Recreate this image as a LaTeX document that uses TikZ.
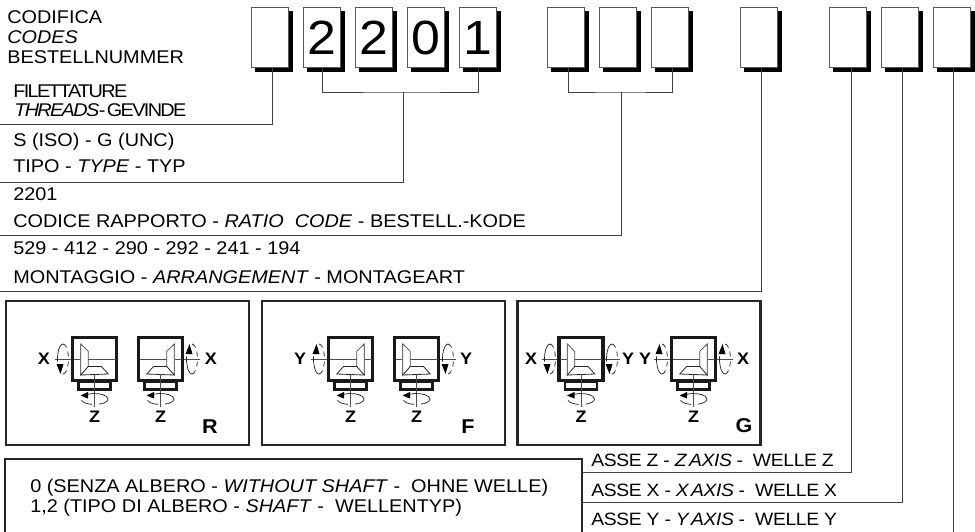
\documentclass[tikz,border=0pt]{standalone}
\usepackage{fontspec}
\setmainfont[FakeStretch=1.08]{Liberation Sans}
\usetikzlibrary{shadows,arrows.meta}
\tikzset{x=0.75pt,y=-0.75pt,
  codebox/.style={draw=black!65,line width=0.9pt,fill=white,minimum width=28pt,minimum height=45.5pt,inner sep=0pt,font=\fontsize{36}{36}\selectfont,
     drop shadow={shadow xshift=3pt,shadow yshift=-3pt,opacity=1,fill=black}},
  link/.style={draw=black!75,line width=0.75pt},
  lab/.style={anchor=base west,inner sep=0pt,font=\fontsize{13.8}{16}\selectfont},
  tight/.style={anchor=base west,inner sep=0pt,font=\fontsize{13.8}{16}\selectfont\addfontfeature{LetterSpace=-9}},
  axislab/.style={anchor=base west,inner sep=0pt,font=\fontsize{13.4}{16}\selectfont\addfontfeature{LetterSpace=-2}},
  panel/.style={draw=black!85,line width=1.9pt,inner sep=0pt},
  axl/.style={font=\bfseries\fontsize{12.5}{12.5}\selectfont,inner sep=0pt},
  tag/.style={font=\bfseries\fontsize{15}{15}\selectfont,inner sep=0pt},
  thin line/.style={draw=black!70,line width=0.5pt},
  rot line/.style={draw=black!85,line width=0.55pt}}
% arc of an ellipse: from angle #1 to #2, radii #3 #4, centre #5 #6 (angles run clockwise on the page)
\newcommand{\earc}[6]{\draw[rot line] ({#5+#3*cos(#1)},{#6+#4*sin(#1)}) arc[start angle=#1,end angle=#2,x radius=#3,y radius=#4];}
\newcommand{\gearicon}[3]{%
 \begin{scope}[shift={(#1,#2)}]
  \begin{scope}[xscale=#3]
   \draw[draw=black!90,line width=2pt,fill=white] (-16,22.5) rectangle (16,30.5);
   \draw[draw=black!90,line width=2.3pt,fill=white] (-22,-21.5) rectangle (22,21.5);
   \draw[thin line] (-21,0) -- (21,0);
   \draw[draw=black!70,line width=0.6pt,fill=white] (-13.7,-15) -- (-6.3,-7.7) -- (-6.3,9.7) -- (-13.7,16) -- cycle;
   \draw[draw=black!55,line width=1pt] (-13.7,-15) -- (-13.7,16);
   \draw[draw=black!85,line width=0.6pt,fill=white] (-13.7,16) -- (-6.3,7.5) -- (7,7.5) -- (13.7,15) -- cycle;
  \end{scope}
  \draw[thin line] (0,15) -- (0,48);
  \earc{-120}{0}{13.5}{5.5}{0}{40}
  \earc{0}{70}{13.5}{5.5}{0}{40}
  \earc{100}{165}{13.5}{5.5}{0}{40}
  \fill[black] (-14,36.5) -- (-6.5,33) -- (-6.5,39.5) -- cycle;
 \end{scope}}
% #1 centre x, #2 y, #3: 1 arrow up, 0 arrow down
\newcommand{\rotsym}[3]{%
 \begin{scope}[shift={(#1,#2)}]
  \draw[thin line] (-8,0) -- (8,0);
  \earc{-90}{-50}{5.5}{15}{0}{0}
  \earc{-30}{-10}{5.5}{15}{0}{0}
  \earc{10}{30}{5.5}{15}{0}{0}
  \earc{50}{90}{5.5}{15}{0}{0}
  \ifnum#3=1
   \fill[black] (-2.5,-15) -- (-6.5,-5) -- (0.5,-5) -- cycle;
   \earc{90}{190}{5.5}{15}{0}{0}
  \else
   \fill[black] (-2.5,15) -- (-6.5,5) -- (0.5,5) -- cycle;
   \earc{170}{270}{5.5}{15}{0}{0}
  \fi
 \end{scope}}
\begin{document}
\begin{tikzpicture}
\useasboundingbox (0,0) rectangle (975,532);
\clip (0,0) rectangle (975,532);
% code boxes
\foreach \n/\cx/\t in {a/270/,b/322/2,c/374/2,d/426/0,e/478/1,f/566/,g/618/,h/670/,i/759/,j/848/,k/900/,l/952/}{
  \node[codebox] (\n) at (\cx,37.5) {\t};
}
% free ends
\coordinate (ea) at (0,124);
\coordinate (jb) at (403,92);
\coordinate (eb) at (0,182);
\coordinate (jf) at (621,92);
\coordinate (ef) at (0,235);
\coordinate (ei) at (0,291);
\coordinate (ej) at (581,472);
\coordinate (ek) at (581,502);
\coordinate (el) at (953,532);
\draw[link] ([xshift=2.2pt]a.south) -- ([xshift=2.2pt]a.south |- ea) -- (ea);
\draw[link] (b.south) |- (jb) -| (e.south);
\draw[link] (jb) |- (eb);
\draw[link] ([xshift=1.5pt]f.south) |- (jf) -| ([xshift=2pt]h.south);
\draw[link] (jf) |- (ef);
\draw[link] ([xshift=2.2pt]i.south) |- (ei);
\draw[link] ([xshift=2.8pt]j.south) |- (ej);
\draw[link] ([xshift=2.2pt]k.south) |- (ek);
\draw[link] ([xshift=0.75pt]l.south) -- ([xshift=0.75pt]l.south |- el);
% texts
\node[lab] (t1) at (7,23) {CODIFICA};
\node[lab] (t2) at (7,43) {\itshape CODES};
\node[lab] (t3) at (7,63) {BESTELLNUMMER};
\node[tight] (t4) at (13,97) {FILETTATURE};
\node[tight] (t5) at (14,116) {\textit{THREADS}\kern1pt-\kern1pt GEVINDE};
\node[lab] (t6) at (13,146) {S (ISO) - G (UNC)};
\node[lab] (t7) at (13,172) {TIPO - \textit{TYPE} - TYP};
\node[lab] (t8) at (13,200) {2201};
\node[lab] (t9) at (13,227) {CODICE RAPPORTO - \textit{RATIO\ \ CODE} - BESTELL.-KODE};
\node[lab] (t10) at (13,254) {529 - 412 - 290 - 292 - 241 - 194};
\node[lab] (t11) at (13,283) {MONTAGGIO - \textit{ARRANGEMENT} - MONTAGEART};
% panels
\node[panel,minimum width=182pt,minimum height=108pt] (pr) at (127.5,373) {};
\node[panel,minimum width=182pt,minimum height=108pt] (pf) at (383.5,373) {};
\node[panel,minimum width=182pt,minimum height=108pt] (pg) at (639,373) {};
% R
\rotsym{63}{359}{0}
\rotsym{192}{359}{1}
\gearicon{94.5}{359}{1}
\gearicon{160.5}{359}{-1}
\node[axl] (rx1) at (44,359) {X};
\node[axl] (rx2) at (211,359) {X};
\node[axl] (rz1) at (94.5,417) {Z};
\node[axl] (rz2) at (160.5,417) {Z};
\node[tag] (rt) at (210,427) {R};
% F
\rotsym{319}{359}{1}
\rotsym{448}{359}{0}
\gearicon{350.5}{359}{-1}
\gearicon{416.5}{359}{1}
\node[axl] (fy1) at (300,359) {Y};
\node[axl] (fy2) at (466,359) {Y};
\node[axl] (fz1) at (350.5,417) {Z};
\node[axl] (fz2) at (416.5,417) {Z};
\node[tag] (ft) at (468,427) {F};
% G
\rotsym{550}{359}{0}
\rotsym{612}{359}{0}
\rotsym{662}{359}{1}
\rotsym{725}{359}{1}
\gearicon{581}{359}{1}
\gearicon{693.5}{359}{-1}
\node[axl] (gx1) at (531,359) {X};
\node[axl] (gy1) at (628,359) {Y};
\node[axl] (gy2) at (645,359) {Y};
\node[axl] (gx2) at (743,359) {X};
\node[axl] (gz1) at (581,417) {Z};
\node[axl] (gz2) at (693.5,417) {Z};
\node[tag] (gt) at (744,426) {G};
% bottom box
\draw[panel] (5,545) -- (5,459) -- (582,459) -- (582,545);
\node[lab] (b1) at (30,492) {0 (SENZA ALBERO - \textit{WITHOUT SHAFT} -\ \ OHNE WELLE)};
\node[lab] (b2) at (30,512) {1,2 (TIPO DI ALBERO - \textit{SHAFT} -\ \ WELLENTYP)};
\node[axislab] (z1) at (591,466) {ASSE Z - \textit{Z\kern-2pt\ AXIS} -\ \ WELLE Z};
\node[axislab] (z2) at (591,496) {ASSE X - \textit{X\kern-2pt\ AXIS} -\ \ WELLE X};
\node[axislab] (z3) at (591,525) {ASSE Y - \textit{Y\kern-2pt\ AXIS} -\ \ WELLE Y};
\end{tikzpicture}
\end{document}
